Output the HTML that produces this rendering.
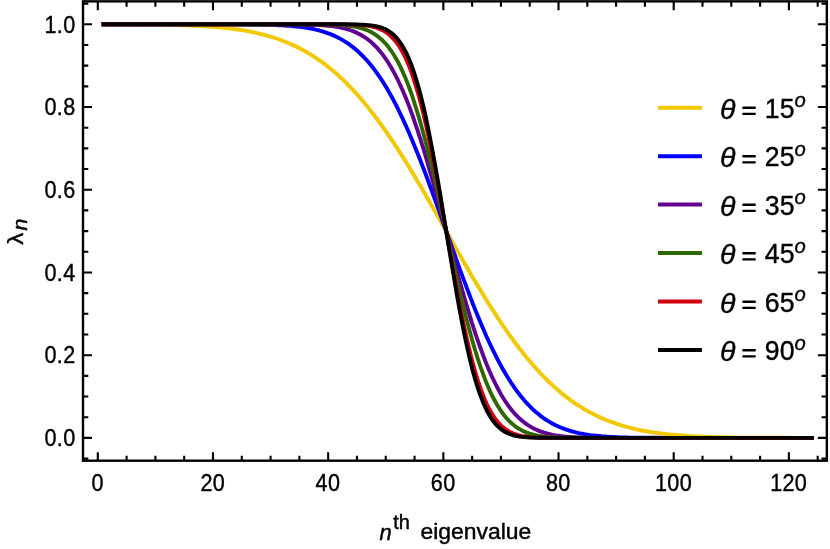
<!DOCTYPE html>
<html><head><meta charset="utf-8"><title>plot</title>
<style>
html,body{margin:0;padding:0;background:#fff;}
body{width:830px;height:549px;overflow:hidden;}
svg{display:block;will-change:transform;}
text{font-family:"Liberation Sans",sans-serif;fill:#000;}
.i{font-style:italic;}
</style></head><body>
<svg width="830" height="549" viewBox="0 0 830 549">
<rect x="0" y="0" width="830" height="549" fill="#fff"/>
<polyline fill="none" stroke="#f2c800" stroke-width="3.9" stroke-linecap="square" stroke-linejoin="round" points="103.6,24.3 106.4,24.4 109.3,24.4 112.2,24.4 115.1,24.4 118.0,24.4 120.8,24.4 123.7,24.4 126.6,24.4 129.5,24.4 132.4,24.5 135.2,24.5 138.1,24.5 141.0,24.5 143.9,24.5 146.8,24.6 149.6,24.6 152.5,24.6 155.4,24.7 158.3,24.7 161.1,24.8 164.0,24.8 166.9,24.9 169.8,24.9 172.7,25.0 175.5,25.1 178.4,25.1 181.3,25.2 184.2,25.3 187.1,25.4 189.9,25.5 192.8,25.7 195.7,25.8 198.6,25.9 201.5,26.1 204.3,26.3 207.2,26.5 210.1,26.7 213.0,26.9 215.9,27.1 218.7,27.4 221.6,27.6 224.5,27.9 227.4,28.2 230.3,28.6 233.1,28.9 236.0,29.3 238.9,29.7 241.8,30.2 244.7,30.7 247.5,31.2 250.4,31.7 253.3,32.3 256.2,32.9 259.1,33.6 261.9,34.3 264.8,35.0 267.7,35.8 270.6,36.7 273.4,37.5 276.3,38.5 279.2,39.5 282.1,40.5 285.0,41.7 287.8,42.8 290.7,44.1 293.6,45.4 296.5,46.7 299.4,48.2 302.2,49.7 305.1,51.3 308.0,52.9 310.9,54.7 313.8,56.5 316.6,58.4 319.5,60.4 322.4,62.4 325.3,64.6 328.2,66.8 331.0,69.2 333.9,71.6 336.8,74.1 339.7,76.7 342.6,79.4 345.4,82.2 348.3,85.1 351.2,88.1 354.1,91.2 357.0,94.3 359.8,97.6 362.7,101.0 365.6,104.4 368.5,108.0 371.4,111.6 374.2,115.4 377.1,119.2 380.0,123.1 382.9,127.1 385.8,131.2 388.6,135.4 391.5,139.6 394.4,143.9 397.3,148.3 400.1,152.8 403.0,157.4 405.9,162.0 408.8,166.6 411.7,171.4 414.5,176.1 417.4,181.0 420.3,185.8 423.2,190.8 426.1,195.7 428.9,200.7 431.8,205.7 434.7,210.8 437.6,215.8 440.5,220.9 443.3,226.0 446.2,231.1 449.1,236.2 452.0,241.3 454.9,246.4 457.7,251.4 460.6,256.5 463.5,261.5 466.4,266.5 469.3,271.4 472.1,276.4 475.0,281.2 477.9,286.1 480.8,290.8 483.7,295.6 486.5,300.2 489.4,304.8 492.3,309.4 495.2,313.9 498.1,318.3 500.9,322.6 503.8,326.8 506.7,331.0 509.6,335.1 512.4,339.1 515.3,343.0 518.2,346.8 521.1,350.6 524.0,354.2 526.8,357.8 529.7,361.2 532.6,364.6 535.5,367.9 538.4,371.0 541.2,374.1 544.1,377.1 547.0,380.0 549.9,382.8 552.8,385.5 555.6,388.1 558.5,390.6 561.4,393.0 564.3,395.4 567.2,397.6 570.0,399.8 572.9,401.8 575.8,403.8 578.7,405.7 581.6,407.5 584.4,409.3 587.3,410.9 590.2,412.5 593.1,414.0 596.0,415.5 598.8,416.8 601.7,418.1 604.6,419.4 607.5,420.5 610.4,421.7 613.2,422.7 616.1,423.7 619.0,424.7 621.9,425.5 624.7,426.4 627.6,427.2 630.5,427.9 633.4,428.6 636.3,429.3 639.1,429.9 642.0,430.5 644.9,431.0 647.8,431.5 650.7,432.0 653.5,432.5 656.4,432.9 659.3,433.3 662.2,433.6 665.1,434.0 667.9,434.3 670.8,434.6 673.7,434.8 676.6,435.1 679.5,435.3 682.3,435.5 685.2,435.7 688.1,435.9 691.0,436.1 693.9,436.3 696.7,436.4 699.6,436.5 702.5,436.7 705.4,436.8 708.3,436.9 711.1,437.0 714.0,437.1 716.9,437.1 719.8,437.2 722.7,437.3 725.5,437.3 728.4,437.4 731.3,437.4 734.2,437.5 737.0,437.5 739.9,437.6 742.8,437.6 745.7,437.6 748.6,437.7 751.4,437.7 754.3,437.7 757.2,437.7 760.1,437.7 763.0,437.8 765.8,437.8 768.7,437.8 771.6,437.8 774.5,437.8 777.4,437.8 780.2,437.8 783.1,437.8 786.0,437.8 788.9,437.9 791.8,437.9 794.6,437.9 797.5,437.9 800.4,437.9 803.3,437.9 806.2,437.9 809.0,437.9 811.9,437.9"/>
<polyline fill="none" stroke="#0000ff" stroke-width="3.9" stroke-linecap="square" stroke-linejoin="round" points="103.6,24.3 106.4,24.3 109.3,24.3 112.2,24.3 115.1,24.3 118.0,24.3 120.8,24.3 123.7,24.3 126.6,24.3 129.5,24.3 132.4,24.3 135.2,24.3 138.1,24.3 141.0,24.3 143.9,24.3 146.8,24.3 149.6,24.3 152.5,24.3 155.4,24.3 158.3,24.3 161.1,24.3 164.0,24.3 166.9,24.3 169.8,24.3 172.7,24.3 175.5,24.3 178.4,24.3 181.3,24.3 184.2,24.3 187.1,24.3 189.9,24.3 192.8,24.3 195.7,24.3 198.6,24.3 201.5,24.3 204.3,24.3 207.2,24.3 210.1,24.3 213.0,24.3 215.9,24.3 218.7,24.3 221.6,24.3 224.5,24.3 227.4,24.3 230.3,24.3 233.1,24.4 236.0,24.4 238.9,24.4 241.8,24.4 244.7,24.4 247.5,24.4 250.4,24.5 253.3,24.5 256.2,24.5 259.1,24.6 261.9,24.6 264.8,24.7 267.7,24.8 270.6,24.8 273.4,24.9 276.3,25.1 279.2,25.2 282.1,25.3 285.0,25.5 287.8,25.7 290.7,25.9 293.6,26.2 296.5,26.5 299.4,26.8 302.2,27.1 305.1,27.6 308.0,28.0 310.9,28.6 313.8,29.1 316.6,29.8 319.5,30.5 322.4,31.4 325.3,32.3 328.2,33.3 331.0,34.4 333.9,35.6 336.8,37.0 339.7,38.4 342.6,40.1 345.4,41.8 348.3,43.7 351.2,45.8 354.1,48.1 357.0,50.5 359.8,53.1 362.7,56.0 365.6,59.0 368.5,62.2 371.4,65.7 374.2,69.4 377.1,73.3 380.0,77.5 382.9,81.9 385.8,86.5 388.6,91.4 391.5,96.5 394.4,101.9 397.3,107.5 400.1,113.3 403.0,119.4 405.9,125.7 408.8,132.2 411.7,139.0 414.5,145.9 417.4,153.0 420.3,160.3 423.2,167.7 426.1,175.3 428.9,183.0 431.8,190.9 434.7,198.8 437.6,206.8 440.5,214.9 443.3,223.0 446.2,231.1 449.1,239.2 452.0,247.3 454.9,255.4 457.7,263.4 460.6,271.3 463.5,279.2 466.4,286.9 469.3,294.5 472.1,301.9 475.0,309.2 477.9,316.3 480.8,323.2 483.7,330.0 486.5,336.5 489.4,342.8 492.3,348.9 495.2,354.7 498.1,360.3 500.9,365.7 503.8,370.8 506.7,375.7 509.6,380.3 512.4,384.7 515.3,388.9 518.2,392.8 521.1,396.5 524.0,400.0 526.8,403.2 529.7,406.2 532.6,409.1 535.5,411.7 538.4,414.1 541.2,416.4 544.1,418.5 547.0,420.4 549.9,422.1 552.8,423.8 555.6,425.2 558.5,426.6 561.4,427.8 564.3,428.9 567.2,429.9 570.0,430.8 572.9,431.7 575.8,432.4 578.7,433.1 581.6,433.6 584.4,434.2 587.3,434.6 590.2,435.1 593.1,435.4 596.0,435.7 598.8,436.0 601.7,436.3 604.6,436.5 607.5,436.7 610.4,436.9 613.2,437.0 616.1,437.1 619.0,437.3 621.9,437.4 624.7,437.4 627.6,437.5 630.5,437.6 633.4,437.6 636.3,437.7 639.1,437.7 642.0,437.7 644.9,437.8 647.8,437.8 650.7,437.8 653.5,437.8 656.4,437.8 659.3,437.8 662.2,437.9 665.1,437.9 667.9,437.9 670.8,437.9 673.7,437.9 676.6,437.9 679.5,437.9 682.3,437.9 685.2,437.9 688.1,437.9 691.0,437.9 693.9,437.9 696.7,437.9 699.6,437.9 702.5,437.9 705.4,437.9 708.3,437.9 711.1,437.9 714.0,437.9 716.9,437.9 719.8,437.9 722.7,437.9 725.5,437.9 728.4,437.9 731.3,437.9 734.2,437.9 737.0,437.9 739.9,437.9 742.8,437.9 745.7,437.9 748.6,437.9 751.4,437.9 754.3,437.9 757.2,437.9 760.1,437.9 763.0,437.9 765.8,437.9 768.7,437.9 771.6,437.9 774.5,437.9 777.4,437.9 780.2,437.9 783.1,437.9 786.0,437.9 788.9,437.9 791.8,437.9 794.6,437.9 797.5,437.9 800.4,437.9 803.3,437.9 806.2,437.9 809.0,437.9 811.9,437.9"/>
<polyline fill="none" stroke="#620094" stroke-width="3.9" stroke-linecap="square" stroke-linejoin="round" points="103.6,24.3 106.4,24.3 109.3,24.3 112.2,24.3 115.1,24.3 118.0,24.3 120.8,24.3 123.7,24.3 126.6,24.3 129.5,24.3 132.4,24.3 135.2,24.3 138.1,24.3 141.0,24.3 143.9,24.3 146.8,24.3 149.6,24.3 152.5,24.3 155.4,24.3 158.3,24.3 161.1,24.3 164.0,24.3 166.9,24.3 169.8,24.3 172.7,24.3 175.5,24.3 178.4,24.3 181.3,24.3 184.2,24.3 187.1,24.3 189.9,24.3 192.8,24.3 195.7,24.3 198.6,24.3 201.5,24.3 204.3,24.3 207.2,24.3 210.1,24.3 213.0,24.3 215.9,24.3 218.7,24.3 221.6,24.3 224.5,24.3 227.4,24.3 230.3,24.3 233.1,24.3 236.0,24.3 238.9,24.3 241.8,24.3 244.7,24.3 247.5,24.3 250.4,24.3 253.3,24.3 256.2,24.3 259.1,24.3 261.9,24.3 264.8,24.3 267.7,24.3 270.6,24.3 273.4,24.3 276.3,24.3 279.2,24.3 282.1,24.3 285.0,24.3 287.8,24.4 290.7,24.4 293.6,24.4 296.5,24.4 299.4,24.5 302.2,24.5 305.1,24.6 308.0,24.6 310.9,24.7 313.8,24.8 316.6,24.9 319.5,25.1 322.4,25.3 325.3,25.5 328.2,25.7 331.0,26.1 333.9,26.4 336.8,26.9 339.7,27.4 342.6,28.0 345.4,28.7 348.3,29.5 351.2,30.5 354.1,31.6 357.0,32.9 359.8,34.3 362.7,36.0 365.6,37.8 368.5,40.0 371.4,42.3 374.2,45.0 377.1,47.9 380.0,51.2 382.9,54.9 385.8,58.9 388.6,63.2 391.5,68.0 394.4,73.2 397.3,78.8 400.1,84.8 403.0,91.2 405.9,98.1 408.8,105.4 411.7,113.2 414.5,121.3 417.4,129.9 420.3,138.8 423.2,148.1 426.1,157.7 428.9,167.6 431.8,177.8 434.7,188.2 437.6,198.7 440.5,209.5 443.3,220.3 446.2,231.1 449.1,241.9 452.0,252.7 454.9,263.5 457.7,274.0 460.6,284.4 463.5,294.6 466.4,304.5 469.3,314.1 472.1,323.4 475.0,332.3 477.9,340.9 480.8,349.0 483.7,356.8 486.5,364.1 489.4,371.0 492.3,377.4 495.2,383.4 498.1,389.0 500.9,394.2 503.8,399.0 506.7,403.3 509.6,407.3 512.4,411.0 515.3,414.3 518.2,417.2 521.1,419.9 524.0,422.2 526.8,424.4 529.7,426.2 532.6,427.9 535.5,429.3 538.4,430.6 541.2,431.7 544.1,432.7 547.0,433.5 549.9,434.2 552.8,434.8 555.6,435.3 558.5,435.8 561.4,436.1 564.3,436.5 567.2,436.7 570.0,436.9 572.9,437.1 575.8,437.3 578.7,437.4 581.6,437.5 584.4,437.6 587.3,437.6 590.2,437.7 593.1,437.7 596.0,437.8 598.8,437.8 601.7,437.8 604.6,437.8 607.5,437.9 610.4,437.9 613.2,437.9 616.1,437.9 619.0,437.9 621.9,437.9 624.7,437.9 627.6,437.9 630.5,437.9 633.4,437.9 636.3,437.9 639.1,437.9 642.0,437.9 644.9,437.9 647.8,437.9 650.7,437.9 653.5,437.9 656.4,437.9 659.3,437.9 662.2,437.9 665.1,437.9 667.9,437.9 670.8,437.9 673.7,437.9 676.6,437.9 679.5,437.9 682.3,437.9 685.2,437.9 688.1,437.9 691.0,437.9 693.9,437.9 696.7,437.9 699.6,437.9 702.5,437.9 705.4,437.9 708.3,437.9 711.1,437.9 714.0,437.9 716.9,437.9 719.8,437.9 722.7,437.9 725.5,437.9 728.4,437.9 731.3,437.9 734.2,437.9 737.0,437.9 739.9,437.9 742.8,437.9 745.7,437.9 748.6,437.9 751.4,437.9 754.3,437.9 757.2,437.9 760.1,437.9 763.0,437.9 765.8,437.9 768.7,437.9 771.6,437.9 774.5,437.9 777.4,437.9 780.2,437.9 783.1,437.9 786.0,437.9 788.9,437.9 791.8,437.9 794.6,437.9 797.5,437.9 800.4,437.9 803.3,437.9 806.2,437.9 809.0,437.9 811.9,437.9"/>
<polyline fill="none" stroke="#2f6800" stroke-width="3.9" stroke-linecap="square" stroke-linejoin="round" points="103.6,24.3 106.4,24.3 109.3,24.3 112.2,24.3 115.1,24.3 118.0,24.3 120.8,24.3 123.7,24.3 126.6,24.3 129.5,24.3 132.4,24.3 135.2,24.3 138.1,24.3 141.0,24.3 143.9,24.3 146.8,24.3 149.6,24.3 152.5,24.3 155.4,24.3 158.3,24.3 161.1,24.3 164.0,24.3 166.9,24.3 169.8,24.3 172.7,24.3 175.5,24.3 178.4,24.3 181.3,24.3 184.2,24.3 187.1,24.3 189.9,24.3 192.8,24.3 195.7,24.3 198.6,24.3 201.5,24.3 204.3,24.3 207.2,24.3 210.1,24.3 213.0,24.3 215.9,24.3 218.7,24.3 221.6,24.3 224.5,24.3 227.4,24.3 230.3,24.3 233.1,24.3 236.0,24.3 238.9,24.3 241.8,24.3 244.7,24.3 247.5,24.3 250.4,24.3 253.3,24.3 256.2,24.3 259.1,24.3 261.9,24.3 264.8,24.3 267.7,24.3 270.6,24.3 273.4,24.3 276.3,24.3 279.2,24.3 282.1,24.3 285.0,24.3 287.8,24.3 290.7,24.3 293.6,24.3 296.5,24.3 299.4,24.3 302.2,24.3 305.1,24.3 308.0,24.3 310.9,24.3 313.8,24.4 316.6,24.4 319.5,24.4 322.4,24.4 325.3,24.5 328.2,24.5 331.0,24.6 333.9,24.7 336.8,24.8 339.7,25.0 342.6,25.2 345.4,25.4 348.3,25.7 351.2,26.1 354.1,26.5 357.0,27.1 359.8,27.8 362.7,28.6 365.6,29.6 368.5,30.8 371.4,32.3 374.2,33.9 377.1,35.9 380.0,38.2 382.9,40.8 385.8,43.8 388.6,47.3 391.5,51.3 394.4,55.7 397.3,60.7 400.1,66.2 403.0,72.4 405.9,79.1 408.8,86.5 411.7,94.5 414.5,103.1 417.4,112.4 420.3,122.2 423.2,132.7 426.1,143.7 428.9,155.2 431.8,167.1 434.7,179.4 437.6,192.1 440.5,204.9 443.3,218.0 446.2,231.1 449.1,244.2 452.0,257.3 454.9,270.1 457.7,282.8 460.6,295.1 463.5,307.0 466.4,318.5 469.3,329.5 472.1,340.0 475.0,349.8 477.9,359.1 480.8,367.7 483.7,375.7 486.5,383.1 489.4,389.8 492.3,396.0 495.2,401.5 498.1,406.5 500.9,410.9 503.8,414.9 506.7,418.4 509.6,421.4 512.4,424.0 515.3,426.3 518.2,428.3 521.1,429.9 524.0,431.4 526.8,432.6 529.7,433.6 532.6,434.4 535.5,435.1 538.4,435.7 541.2,436.1 544.1,436.5 547.0,436.8 549.9,437.0 552.8,437.2 555.6,437.4 558.5,437.5 561.4,437.6 564.3,437.7 567.2,437.7 570.0,437.8 572.9,437.8 575.8,437.8 578.7,437.8 581.6,437.9 584.4,437.9 587.3,437.9 590.2,437.9 593.1,437.9 596.0,437.9 598.8,437.9 601.7,437.9 604.6,437.9 607.5,437.9 610.4,437.9 613.2,437.9 616.1,437.9 619.0,437.9 621.9,437.9 624.7,437.9 627.6,437.9 630.5,437.9 633.4,437.9 636.3,437.9 639.1,437.9 642.0,437.9 644.9,437.9 647.8,437.9 650.7,437.9 653.5,437.9 656.4,437.9 659.3,437.9 662.2,437.9 665.1,437.9 667.9,437.9 670.8,437.9 673.7,437.9 676.6,437.9 679.5,437.9 682.3,437.9 685.2,437.9 688.1,437.9 691.0,437.9 693.9,437.9 696.7,437.9 699.6,437.9 702.5,437.9 705.4,437.9 708.3,437.9 711.1,437.9 714.0,437.9 716.9,437.9 719.8,437.9 722.7,437.9 725.5,437.9 728.4,437.9 731.3,437.9 734.2,437.9 737.0,437.9 739.9,437.9 742.8,437.9 745.7,437.9 748.6,437.9 751.4,437.9 754.3,437.9 757.2,437.9 760.1,437.9 763.0,437.9 765.8,437.9 768.7,437.9 771.6,437.9 774.5,437.9 777.4,437.9 780.2,437.9 783.1,437.9 786.0,437.9 788.9,437.9 791.8,437.9 794.6,437.9 797.5,437.9 800.4,437.9 803.3,437.9 806.2,437.9 809.0,437.9 811.9,437.9"/>
<polyline fill="none" stroke="#d1000f" stroke-width="3.9" stroke-linecap="square" stroke-linejoin="round" points="103.6,24.3 106.4,24.3 109.3,24.3 112.2,24.3 115.1,24.3 118.0,24.3 120.8,24.3 123.7,24.3 126.6,24.3 129.5,24.3 132.4,24.3 135.2,24.3 138.1,24.3 141.0,24.3 143.9,24.3 146.8,24.3 149.6,24.3 152.5,24.3 155.4,24.3 158.3,24.3 161.1,24.3 164.0,24.3 166.9,24.3 169.8,24.3 172.7,24.3 175.5,24.3 178.4,24.3 181.3,24.3 184.2,24.3 187.1,24.3 189.9,24.3 192.8,24.3 195.7,24.3 198.6,24.3 201.5,24.3 204.3,24.3 207.2,24.3 210.1,24.3 213.0,24.3 215.9,24.3 218.7,24.3 221.6,24.3 224.5,24.3 227.4,24.3 230.3,24.3 233.1,24.3 236.0,24.3 238.9,24.3 241.8,24.3 244.7,24.3 247.5,24.3 250.4,24.3 253.3,24.3 256.2,24.3 259.1,24.3 261.9,24.3 264.8,24.3 267.7,24.3 270.6,24.3 273.4,24.3 276.3,24.3 279.2,24.3 282.1,24.3 285.0,24.3 287.8,24.3 290.7,24.3 293.6,24.3 296.5,24.3 299.4,24.3 302.2,24.3 305.1,24.3 308.0,24.3 310.9,24.3 313.8,24.3 316.6,24.3 319.5,24.3 322.4,24.3 325.3,24.3 328.2,24.3 331.0,24.3 333.9,24.3 336.8,24.3 339.7,24.4 342.6,24.4 345.4,24.4 348.3,24.5 351.2,24.5 354.1,24.6 357.0,24.8 359.8,24.9 362.7,25.2 365.6,25.5 368.5,25.9 371.4,26.4 374.2,27.1 377.1,28.0 380.0,29.1 382.9,30.4 385.8,32.2 388.6,34.3 391.5,36.8 394.4,39.9 397.3,43.5 400.1,47.8 403.0,52.9 405.9,58.7 408.8,65.4 411.7,73.0 414.5,81.6 417.4,91.1 420.3,101.6 423.2,113.1 426.1,125.5 428.9,138.7 431.8,152.8 434.7,167.5 437.6,182.9 440.5,198.7 443.3,214.8 446.2,231.1 449.1,247.4 452.0,263.5 454.9,279.3 457.7,294.7 460.6,309.4 463.5,323.5 466.4,336.7 469.3,349.1 472.1,360.6 475.0,371.1 477.9,380.6 480.8,389.2 483.7,396.8 486.5,403.5 489.4,409.3 492.3,414.4 495.2,418.7 498.1,422.3 500.9,425.4 503.8,427.9 506.7,430.0 509.6,431.8 512.4,433.1 515.3,434.2 518.2,435.1 521.1,435.8 524.0,436.3 526.8,436.7 529.7,437.0 532.6,437.3 535.5,437.4 538.4,437.6 541.2,437.7 544.1,437.7 547.0,437.8 549.9,437.8 552.8,437.8 555.6,437.9 558.5,437.9 561.4,437.9 564.3,437.9 567.2,437.9 570.0,437.9 572.9,437.9 575.8,437.9 578.7,437.9 581.6,437.9 584.4,437.9 587.3,437.9 590.2,437.9 593.1,437.9 596.0,437.9 598.8,437.9 601.7,437.9 604.6,437.9 607.5,437.9 610.4,437.9 613.2,437.9 616.1,437.9 619.0,437.9 621.9,437.9 624.7,437.9 627.6,437.9 630.5,437.9 633.4,437.9 636.3,437.9 639.1,437.9 642.0,437.9 644.9,437.9 647.8,437.9 650.7,437.9 653.5,437.9 656.4,437.9 659.3,437.9 662.2,437.9 665.1,437.9 667.9,437.9 670.8,437.9 673.7,437.9 676.6,437.9 679.5,437.9 682.3,437.9 685.2,437.9 688.1,437.9 691.0,437.9 693.9,437.9 696.7,437.9 699.6,437.9 702.5,437.9 705.4,437.9 708.3,437.9 711.1,437.9 714.0,437.9 716.9,437.9 719.8,437.9 722.7,437.9 725.5,437.9 728.4,437.9 731.3,437.9 734.2,437.9 737.0,437.9 739.9,437.9 742.8,437.9 745.7,437.9 748.6,437.9 751.4,437.9 754.3,437.9 757.2,437.9 760.1,437.9 763.0,437.9 765.8,437.9 768.7,437.9 771.6,437.9 774.5,437.9 777.4,437.9 780.2,437.9 783.1,437.9 786.0,437.9 788.9,437.9 791.8,437.9 794.6,437.9 797.5,437.9 800.4,437.9 803.3,437.9 806.2,437.9 809.0,437.9 811.9,437.9"/>
<polyline fill="none" stroke="#000000" stroke-width="3.9" stroke-linecap="square" stroke-linejoin="round" points="103.6,24.3 106.4,24.3 109.3,24.3 112.2,24.3 115.1,24.3 118.0,24.3 120.8,24.3 123.7,24.3 126.6,24.3 129.5,24.3 132.4,24.3 135.2,24.3 138.1,24.3 141.0,24.3 143.9,24.3 146.8,24.3 149.6,24.3 152.5,24.3 155.4,24.3 158.3,24.3 161.1,24.3 164.0,24.3 166.9,24.3 169.8,24.3 172.7,24.3 175.5,24.3 178.4,24.3 181.3,24.3 184.2,24.3 187.1,24.3 189.9,24.3 192.8,24.3 195.7,24.3 198.6,24.3 201.5,24.3 204.3,24.3 207.2,24.3 210.1,24.3 213.0,24.3 215.9,24.3 218.7,24.3 221.6,24.3 224.5,24.3 227.4,24.3 230.3,24.3 233.1,24.3 236.0,24.3 238.9,24.3 241.8,24.3 244.7,24.3 247.5,24.3 250.4,24.3 253.3,24.3 256.2,24.3 259.1,24.3 261.9,24.3 264.8,24.3 267.7,24.3 270.6,24.3 273.4,24.3 276.3,24.3 279.2,24.3 282.1,24.3 285.0,24.3 287.8,24.3 290.7,24.3 293.6,24.3 296.5,24.3 299.4,24.3 302.2,24.3 305.1,24.3 308.0,24.3 310.9,24.3 313.8,24.3 316.6,24.3 319.5,24.3 322.4,24.3 325.3,24.3 328.2,24.3 331.0,24.3 333.9,24.3 336.8,24.3 339.7,24.3 342.6,24.3 345.4,24.3 348.3,24.4 351.2,24.4 354.1,24.4 357.0,24.5 359.8,24.6 362.7,24.7 365.6,24.9 368.5,25.1 371.4,25.4 374.2,25.9 377.1,26.4 380.0,27.2 382.9,28.2 385.8,29.4 388.6,31.0 391.5,33.1 394.4,35.6 397.3,38.6 400.1,42.4 403.0,46.8 405.9,52.2 408.8,58.4 411.7,65.6 414.5,73.9 417.4,83.3 420.3,93.8 423.2,105.5 426.1,118.3 428.9,132.1 431.8,147.0 434.7,162.7 437.6,179.1 440.5,196.1 443.3,213.5 446.2,231.1 449.1,248.7 452.0,266.1 454.9,283.1 457.7,299.5 460.6,315.2 463.5,330.1 466.4,343.9 469.3,356.7 472.1,368.4 475.0,378.9 477.9,388.3 480.8,396.6 483.7,403.8 486.5,410.0 489.4,415.4 492.3,419.8 495.2,423.6 498.1,426.6 500.9,429.1 503.8,431.2 506.7,432.8 509.6,434.0 512.4,435.0 515.3,435.8 518.2,436.3 521.1,436.8 524.0,437.1 526.8,437.3 529.7,437.5 532.6,437.6 535.5,437.7 538.4,437.8 541.2,437.8 544.1,437.8 547.0,437.9 549.9,437.9 552.8,437.9 555.6,437.9 558.5,437.9 561.4,437.9 564.3,437.9 567.2,437.9 570.0,437.9 572.9,437.9 575.8,437.9 578.7,437.9 581.6,437.9 584.4,437.9 587.3,437.9 590.2,437.9 593.1,437.9 596.0,437.9 598.8,437.9 601.7,437.9 604.6,437.9 607.5,437.9 610.4,437.9 613.2,437.9 616.1,437.9 619.0,437.9 621.9,437.9 624.7,437.9 627.6,437.9 630.5,437.9 633.4,437.9 636.3,437.9 639.1,437.9 642.0,437.9 644.9,437.9 647.8,437.9 650.7,437.9 653.5,437.9 656.4,437.9 659.3,437.9 662.2,437.9 665.1,437.9 667.9,437.9 670.8,437.9 673.7,437.9 676.6,437.9 679.5,437.9 682.3,437.9 685.2,437.9 688.1,437.9 691.0,437.9 693.9,437.9 696.7,437.9 699.6,437.9 702.5,437.9 705.4,437.9 708.3,437.9 711.1,437.9 714.0,437.9 716.9,437.9 719.8,437.9 722.7,437.9 725.5,437.9 728.4,437.9 731.3,437.9 734.2,437.9 737.0,437.9 739.9,437.9 742.8,437.9 745.7,437.9 748.6,437.9 751.4,437.9 754.3,437.9 757.2,437.9 760.1,437.9 763.0,437.9 765.8,437.9 768.7,437.9 771.6,437.9 774.5,437.9 777.4,437.9 780.2,437.9 783.1,437.9 786.0,437.9 788.9,437.9 791.8,437.9 794.6,437.9 797.5,437.9 800.4,437.9 803.3,437.9 806.2,437.9 809.0,437.9 811.9,437.9"/>
<path d="M97.80 460.70v-8.50M97.80 1.35v8.90M126.59 460.70v-5.00M126.59 1.35v5.40M155.39 460.70v-5.00M155.39 1.35v5.40M184.19 460.70v-5.00M184.19 1.35v5.40M212.98 460.70v-8.50M212.98 1.35v8.90M241.78 460.70v-5.00M241.78 1.35v5.40M270.57 460.70v-5.00M270.57 1.35v5.40M299.37 460.70v-5.00M299.37 1.35v5.40M328.16 460.70v-8.50M328.16 1.35v8.90M356.96 460.70v-5.00M356.96 1.35v5.40M385.75 460.70v-5.00M385.75 1.35v5.40M414.55 460.70v-5.00M414.55 1.35v5.40M443.34 460.70v-8.50M443.34 1.35v8.90M472.14 460.70v-5.00M472.14 1.35v5.40M500.93 460.70v-5.00M500.93 1.35v5.40M529.73 460.70v-5.00M529.73 1.35v5.40M558.52 460.70v-8.50M558.52 1.35v8.90M587.32 460.70v-5.00M587.32 1.35v5.40M616.11 460.70v-5.00M616.11 1.35v5.40M644.90 460.70v-5.00M644.90 1.35v5.40M673.70 460.70v-8.50M673.70 1.35v8.90M702.50 460.70v-5.00M702.50 1.35v5.40M731.29 460.70v-5.00M731.29 1.35v5.40M760.09 460.70v-5.00M760.09 1.35v5.40M788.88 460.70v-8.50M788.88 1.35v8.90M817.67 460.70v-5.00M817.67 1.35v5.40M83.00 458.58h5.30M826.85 458.58h-5.30M83.00 437.90h9.00M826.85 437.90h-9.00M83.00 417.22h5.30M826.85 417.22h-5.30M83.00 396.54h5.30M826.85 396.54h-5.30M83.00 375.86h5.30M826.85 375.86h-5.30M83.00 355.18h9.00M826.85 355.18h-9.00M83.00 334.50h5.30M826.85 334.50h-5.30M83.00 313.82h5.30M826.85 313.82h-5.30M83.00 293.14h5.30M826.85 293.14h-5.30M83.00 272.46h9.00M826.85 272.46h-9.00M83.00 251.78h5.30M826.85 251.78h-5.30M83.00 231.10h5.30M826.85 231.10h-5.30M83.00 210.42h5.30M826.85 210.42h-5.30M83.00 189.74h9.00M826.85 189.74h-9.00M83.00 169.06h5.30M826.85 169.06h-5.30M83.00 148.38h5.30M826.85 148.38h-5.30M83.00 127.70h5.30M826.85 127.70h-5.30M83.00 107.02h9.00M826.85 107.02h-9.00M83.00 86.34h5.30M826.85 86.34h-5.30M83.00 65.66h5.30M826.85 65.66h-5.30M83.00 44.98h5.30M826.85 44.98h-5.30M83.00 24.30h9.00M826.85 24.30h-9.00M83.00 3.62h5.30M826.85 3.62h-5.30" stroke="#000" stroke-width="2.1" fill="none"/>
<rect x="83.0" y="1.35" width="743.85" height="459.34999999999997" fill="none" stroke="#000" stroke-width="2.4"/>
<text transform="translate(97.60,491.10) scale(0.9,1)" font-size="24.0" text-anchor="middle" letter-spacing="0.4" stroke="#000" stroke-width="0.4">0</text>
<text transform="translate(212.78,491.10) scale(0.9,1)" font-size="24.0" text-anchor="middle" letter-spacing="0.4" stroke="#000" stroke-width="0.4">20</text>
<text transform="translate(327.96,491.10) scale(0.9,1)" font-size="24.0" text-anchor="middle" letter-spacing="0.4" stroke="#000" stroke-width="0.4">40</text>
<text transform="translate(443.14,491.10) scale(0.9,1)" font-size="24.0" text-anchor="middle" letter-spacing="0.4" stroke="#000" stroke-width="0.4">60</text>
<text transform="translate(558.32,491.10) scale(0.9,1)" font-size="24.0" text-anchor="middle" letter-spacing="0.4" stroke="#000" stroke-width="0.4">80</text>
<text transform="translate(673.50,491.10) scale(0.9,1)" font-size="24.0" text-anchor="middle" letter-spacing="0.4" stroke="#000" stroke-width="0.4">100</text>
<text transform="translate(788.68,491.10) scale(0.9,1)" font-size="24.0" text-anchor="middle" letter-spacing="0.4" stroke="#000" stroke-width="0.4">120</text>
<text transform="translate(75.60,446.20) scale(0.9,1)" font-size="24.0" text-anchor="end" letter-spacing="0.4" stroke="#000" stroke-width="0.4">0.0</text>
<text transform="translate(75.60,363.48) scale(0.9,1)" font-size="24.0" text-anchor="end" letter-spacing="0.4" stroke="#000" stroke-width="0.4">0.2</text>
<text transform="translate(75.60,280.76) scale(0.9,1)" font-size="24.0" text-anchor="end" letter-spacing="0.4" stroke="#000" stroke-width="0.4">0.4</text>
<text transform="translate(75.60,198.04) scale(0.9,1)" font-size="24.0" text-anchor="end" letter-spacing="0.4" stroke="#000" stroke-width="0.4">0.6</text>
<text transform="translate(75.60,115.32) scale(0.9,1)" font-size="24.0" text-anchor="end" letter-spacing="0.4" stroke="#000" stroke-width="0.4">0.8</text>
<text transform="translate(75.60,32.60) scale(0.9,1)" font-size="24.0" text-anchor="end" letter-spacing="0.4" stroke="#000" stroke-width="0.4">1.0</text>
<text transform="translate(379.50,539.50)" font-size="22.0" class="i" stroke="#000" stroke-width="0.4">n</text>
<text transform="translate(393.20,528.80)" font-size="20.0" stroke="#000" stroke-width="0.4">th</text>
<text transform="translate(420.40,539.00) scale(1.072,1)" font-size="21.4" stroke="#000" stroke-width="0.4">eigenvalue</text>
<text transform="translate(22.60,244.80) rotate(-90) scale(1.1,1)" font-size="21.8" stroke="#000" stroke-width="0.4">λ</text>
<text transform="translate(27.20,230.60) rotate(-90) scale(1.1,1)" font-size="19.4" class="i" stroke="#000" stroke-width="0.4">n</text>
<line x1="658" x2="701.9" y1="107.75" y2="107.75" stroke="#f2c800" stroke-width="3.9"/>
<text transform="translate(719.90,118.70)" font-size="28.5" class="i" stroke="#000" stroke-width="0.4">θ</text>
<path d="M742.4 107.75h13.3M742.4 113.80h13.3" stroke="#000" stroke-width="2.35" fill="none"/>
<text transform="translate(764.80,117.80) scale(0.95,1)" font-size="28.1" stroke="#000" stroke-width="0.4">15</text>
<text transform="translate(794.40,107.30)" font-size="20.2" class="i" stroke="#000" stroke-width="0.4">o</text>
<line x1="658" x2="701.9" y1="156.2" y2="156.2" stroke="#0000ff" stroke-width="3.9"/>
<text transform="translate(719.90,167.20)" font-size="28.5" class="i" stroke="#000" stroke-width="0.4">θ</text>
<path d="M742.4 156.25h13.3M742.4 162.30h13.3" stroke="#000" stroke-width="2.35" fill="none"/>
<text transform="translate(764.80,166.30) scale(0.95,1)" font-size="28.1" stroke="#000" stroke-width="0.4">25</text>
<text transform="translate(794.40,155.80)" font-size="20.2" class="i" stroke="#000" stroke-width="0.4">o</text>
<line x1="658" x2="701.9" y1="204.5" y2="204.5" stroke="#620094" stroke-width="3.9"/>
<text transform="translate(719.90,215.70)" font-size="28.5" class="i" stroke="#000" stroke-width="0.4">θ</text>
<path d="M742.4 204.75h13.3M742.4 210.80h13.3" stroke="#000" stroke-width="2.35" fill="none"/>
<text transform="translate(764.80,214.80) scale(0.95,1)" font-size="28.1" stroke="#000" stroke-width="0.4">35</text>
<text transform="translate(794.40,204.30)" font-size="20.2" class="i" stroke="#000" stroke-width="0.4">o</text>
<line x1="658" x2="701.9" y1="253" y2="253" stroke="#2f6800" stroke-width="3.9"/>
<text transform="translate(719.90,264.20)" font-size="28.5" class="i" stroke="#000" stroke-width="0.4">θ</text>
<path d="M742.4 253.25h13.3M742.4 259.30h13.3" stroke="#000" stroke-width="2.35" fill="none"/>
<text transform="translate(764.80,263.30) scale(0.95,1)" font-size="28.1" stroke="#000" stroke-width="0.4">45</text>
<text transform="translate(794.40,252.80)" font-size="20.2" class="i" stroke="#000" stroke-width="0.4">o</text>
<line x1="658" x2="701.9" y1="301.5" y2="301.5" stroke="#d1000f" stroke-width="3.9"/>
<text transform="translate(719.90,312.70)" font-size="28.5" class="i" stroke="#000" stroke-width="0.4">θ</text>
<path d="M742.4 301.75h13.3M742.4 307.80h13.3" stroke="#000" stroke-width="2.35" fill="none"/>
<text transform="translate(764.80,311.80) scale(0.95,1)" font-size="28.1" stroke="#000" stroke-width="0.4">65</text>
<text transform="translate(794.40,301.30)" font-size="20.2" class="i" stroke="#000" stroke-width="0.4">o</text>
<line x1="658" x2="701.9" y1="350" y2="350" stroke="#000000" stroke-width="3.9"/>
<text transform="translate(719.90,361.20)" font-size="28.5" class="i" stroke="#000" stroke-width="0.4">θ</text>
<path d="M742.4 350.25h13.3M742.4 356.30h13.3" stroke="#000" stroke-width="2.35" fill="none"/>
<text transform="translate(764.80,360.30) scale(0.95,1)" font-size="28.1" stroke="#000" stroke-width="0.4">90</text>
<text transform="translate(794.40,349.80)" font-size="20.2" class="i" stroke="#000" stroke-width="0.4">o</text>
</svg>
</body></html>
